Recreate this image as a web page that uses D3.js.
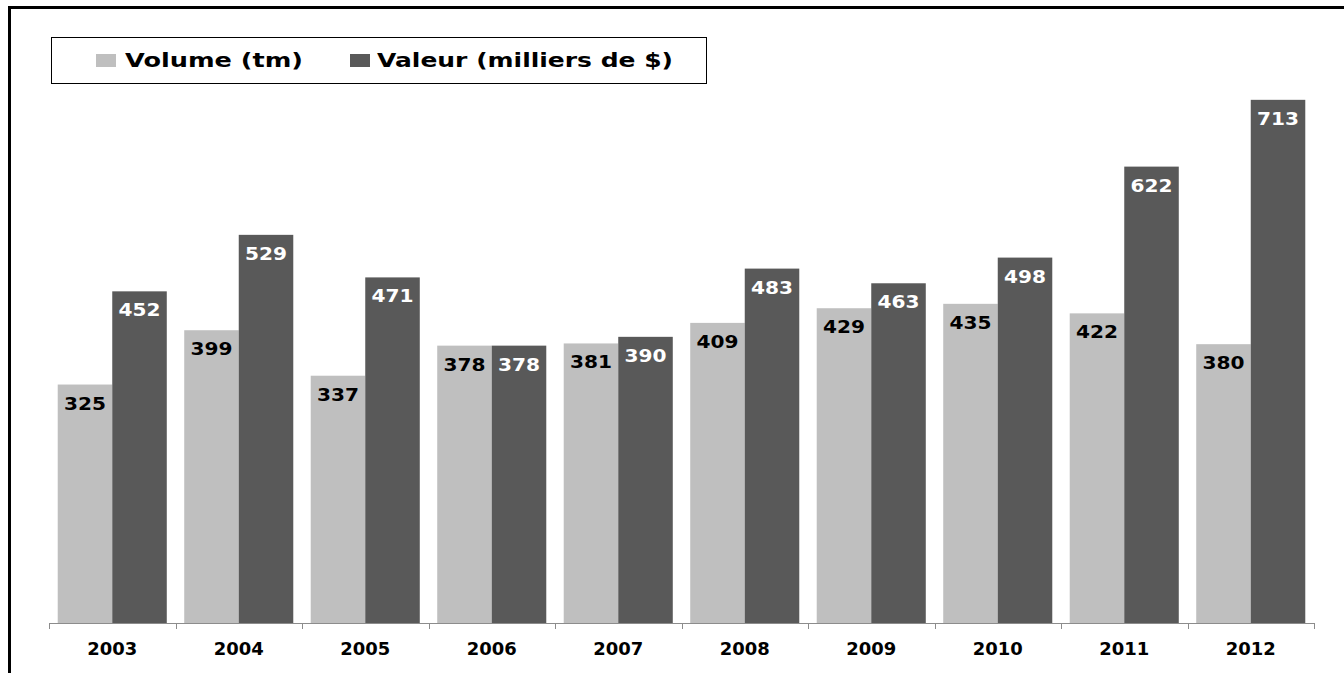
<!DOCTYPE html>
<html><head><meta charset="utf-8">
<script src="https://cdn.jsdelivr.net/npm/d3@7"></script>
<style>body{margin:0;background:#fff}svg{display:block}</style>
</head><body>
<script>
const years = ["2003","2004","2005","2006","2007","2008","2009","2010","2011","2012"];
const volume = [325,399,337,378,381,409,429,435,422,380];
const valeur = [452,529,471,378,390,483,463,498,622,713];
const seriesNames = ["Volume (tm)","Valeur (milliers de $)"];
const seriesColors = ["#BFBFBF","#595959"];
const labelColors = ["#000","#fff"];

(function(){
const W=1344,H=673;
const svg=d3.select("body").append("svg").attr("width",W).attr("height",H);
const font="'DejaVu Sans', Verdana, sans-serif";

svg.append("rect").attr("x",9.5).attr("y",7.5).attr("width",1345).attr("height",680)
  .attr("fill","none").attr("stroke","#000").attr("stroke-width",3);

const pL=49,pR=1314,pT=36,pB=623;
const x=d3.scaleBand().domain(years).range([pL,pR]).paddingInner(0).paddingOuter(0);
const x1=d3.scaleBand().domain([0,1]).range([0,x.bandwidth()]).paddingOuter(0.16).paddingInner(0);
const y=d3.scaleLinear().domain([0,800]).range([pB,pT]);

const data=[volume,valeur];
data.forEach((arr,si)=>{
  const g=svg.append("g");
  g.selectAll("rect").data(arr).enter().append("rect")
    .attr("x",(d,i)=>x(years[i])+x1(si)).attr("width",x1.bandwidth())
    .attr("y",d=>y(d)).attr("height",d=>y(0)-y(d)).attr("fill",seriesColors[si]);
  g.selectAll("text").data(arr).enter().append("text")
    .attr("x",(d,i)=>x(years[i])+x1(si)+x1.bandwidth()/2)
    .attr("y",d=>y(d)+25).attr("text-anchor","middle")
    .attr("font-family",font).attr("font-weight","bold").attr("font-size",18)
    .attr("textLength",42).attr("lengthAdjust","spacingAndGlyphs")
    .attr("fill",labelColors[si]).text(d=>d);
});

const ax=svg.append("g").attr("transform",`translate(0,${pB})`);
ax.append("line").attr("x1",pL).attr("x2",pR).attr("y1",0.5).attr("y2",0.5).attr("stroke","#8c8c8c").attr("stroke-width",1);
const bounds=years.map(d=>x(d)).concat([pR]);
ax.selectAll("line.t").data(bounds).enter().append("line").attr("class","t")
  .attr("x1",d=>Math.round(d)+0.5).attr("x2",d=>Math.round(d)+0.5).attr("y1",0).attr("y2",6)
  .attr("stroke","#8c8c8c");
ax.selectAll("text").data(years).enter().append("text")
  .attr("x",d=>x(d)+x.bandwidth()/2).attr("y",32).attr("text-anchor","middle")
  .attr("font-family",font).attr("font-weight","bold").attr("font-size",17)
  .attr("textLength",50).attr("lengthAdjust","spacingAndGlyphs")
  .attr("fill","#000").text(d=>d);

const lg=svg.append("g");
lg.append("rect").attr("x",51.5).attr("y",37.5).attr("width",655).attr("height",46)
  .attr("fill","#fff").attr("stroke","#000").attr("stroke-width",1);
const legX=[96,350], legTX=[125,377], legTW=[178,296];
seriesNames.forEach((n,i)=>{
  lg.append("rect").attr("x",legX[i]).attr("y",54).attr("width",20).attr("height",13).attr("fill",seriesColors[i]);
  lg.append("text").attr("x",legTX[i]).attr("y",67).attr("font-family",font).attr("font-weight","bold")
    .attr("font-size",19).attr("textLength",legTW[i]).attr("lengthAdjust","spacingAndGlyphs")
    .attr("fill","#000").text(n);
});
})();
</script>
</body></html>
